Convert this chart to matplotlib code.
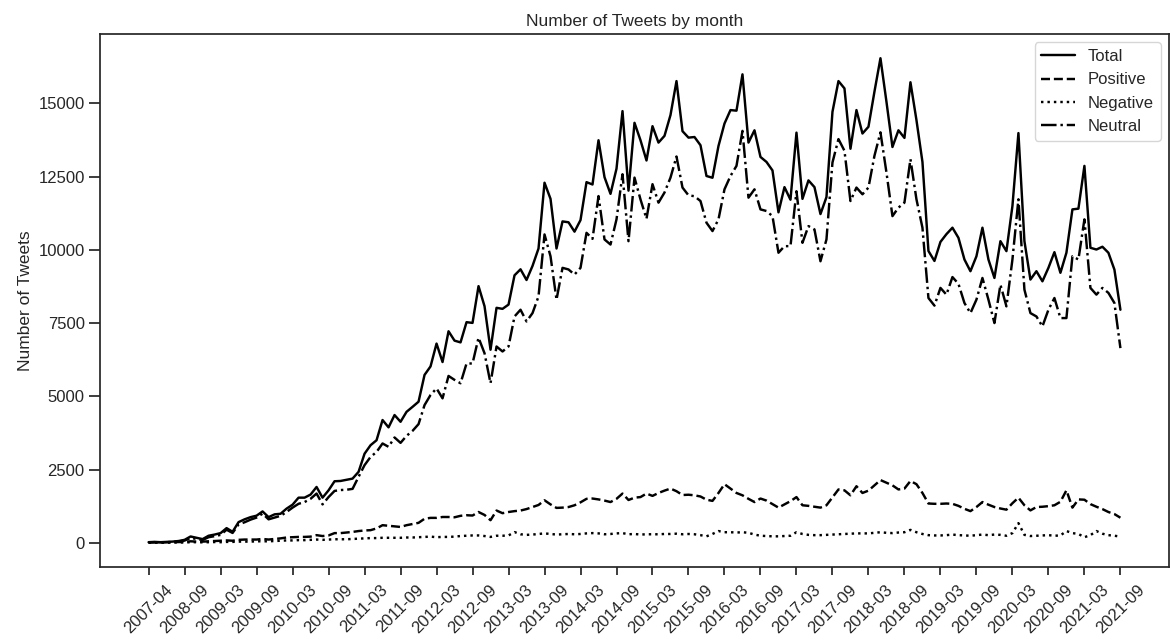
import matplotlib
matplotlib.use("Agg")
from matplotlib import pyplot as plt
import seaborn as sns
import numpy as np

# monthly counts, one row per tick interval (6 points)
total = [
    20, 30, 20, 30, 40, 60,
    100, 215, 170, 125, 240, 280,
    330, 500, 375, 705, 800, 875,
    925, 1070, 875, 970, 990, 1165,
    1300, 1540, 1540, 1645, 1905, 1540,
    1790, 2100, 2110, 2150, 2190, 2420,
    3040, 3330, 3500, 4190, 3940, 4360,
    4130, 4470, 4640, 4815, 5730, 6020,
    6800, 6170, 7220, 6900, 6840, 7530,
    7505, 8760, 8075, 6590, 8020, 7985,
    8130, 9130, 9335, 8970, 9450, 10045,
    12290, 11740, 10045, 10970, 10940, 10620,
    11015, 12310, 12230, 13740, 12480, 11910,
    12770, 14735, 12020, 14335, 13740, 13050,
    14220, 13660, 13890, 14600, 15760, 14050,
    13830, 13850, 13570, 12520, 12460, 13545,
    14310, 14770, 14750, 15990, 13660, 14080,
    13170, 13000, 12710, 11280, 12140, 11710,
    14000, 11740, 12370, 12140, 11220, 11800,
    14710, 15760, 15510, 13450, 14770, 13970,
    14200, 15400, 16540, 15055, 13510, 14080,
    13820, 15720, 14430, 13000, 9960, 9620,
    10270, 10535, 10755, 10410, 9670, 9270,
    9780, 10755, 9670, 9040, 10295, 9955,
    11495, 13985, 10295, 8985, 9270, 8925,
    9385, 9920, 9215, 9900, 11380, 11405,
    12865, 10070, 10010, 10105, 9900, 9325,
    7955,
]

positive = [
    10, 15, 10, 15, 20, 25,
    30, 50, 40, 40, 50, 60,
    70, 80, 70, 100, 110, 110,
    110, 130, 110, 130, 150, 180,
    190, 200, 200, 210, 260, 230,
    250, 330, 330, 350, 370, 400,
    420, 430, 490, 600, 580, 560,
    540, 600, 640, 680, 820, 850,
    850, 880, 880, 870, 920, 940,
    930, 1050, 950, 770, 1100, 1010,
    1050, 1080, 1100, 1150, 1220, 1290,
    1450, 1310, 1190, 1200, 1220, 1280,
    1380, 1500, 1510, 1480, 1440, 1390,
    1500, 1680, 1460, 1540, 1560, 1680,
    1600, 1700, 1780, 1850, 1760, 1630,
    1640, 1620, 1580, 1470, 1430, 1700,
    2000, 1850, 1700, 1620, 1500, 1390,
    1510, 1440, 1320, 1200, 1310, 1420,
    1560, 1280, 1260, 1230, 1200, 1280,
    1550, 1820, 1790, 1620, 1930, 1700,
    1780, 1960, 2140, 2050, 1960, 1820,
    1850, 2110, 2000, 1700, 1340, 1330,
    1330, 1340, 1330, 1260, 1160, 1080,
    1220, 1390, 1300, 1220, 1170, 1130,
    1350, 1540, 1280, 1105, 1220, 1230,
    1250, 1280, 1400, 1790, 1200, 1480,
    1470, 1320, 1230, 1150, 1050, 980,
    855,
]

negative = [
    0, 5, 5, 5, 10, 10,
    10, 20, 20, 15, 20, 25,
    20, 30, 30, 40, 40, 40,
    50, 50, 50, 60, 70, 80,
    80, 90, 90, 100, 110, 100,
    110, 120, 120, 120, 130, 140,
    150, 160, 160, 170, 170, 170,
    170, 180, 180, 190, 200, 210,
    190, 200, 200, 210, 230, 240,
    250, 250, 230, 200, 240, 240,
    250, 365, 290, 270, 280, 300,
    320, 300, 280, 290, 300, 290,
    300, 320, 330, 320, 290, 300,
    320, 330, 290, 300, 280, 290,
    290, 290, 300, 300, 310, 290,
    300, 290, 260, 220, 300, 400,
    360, 360, 350, 360, 340, 280,
    240, 230, 220, 220, 230, 240,
    360, 300, 270, 260, 260, 270,
    280, 290, 300, 310, 320, 320,
    320, 340, 360, 340, 330, 350,
    360, 440, 360, 300, 260, 250,
    250, 260, 280, 260, 250, 240,
    260, 280, 260, 280, 270, 240,
    330, 670, 270, 230, 240, 250,
    260, 240, 250, 400, 330, 300,
    190, 260, 400, 310, 260, 240,
    210,
]

neutral = [
    15, 20, 15, 20, 30, 45,
    75, 165, 130, 95, 190, 225,
    270, 445, 335, 625, 700, 790,
    860, 995, 800, 860, 920, 1050,
    1200, 1330, 1390, 1500, 1680, 1310,
    1560, 1770, 1800, 1810, 1840, 2250,
    2650, 2930, 3100, 3390, 3275, 3595,
    3410, 3650, 3820, 4050, 4700, 5045,
    5270, 4930, 5695, 5560, 5445, 6120,
    6120, 7000, 6470, 5445, 6700, 6530,
    6700, 7725, 7955, 7555, 7840, 8410,
    10525, 9780, 8300, 9385, 9330, 9155,
    9385, 10580, 10375, 11835, 10355, 10180,
    11040, 12580, 10295, 12465, 11720, 11060,
    12240, 11610, 11955, 12465, 13185, 12125,
    11860, 11830, 11665, 10925, 10640, 11040,
    12065, 12520, 12865, 14060, 11780, 12065,
    11380, 11325, 11150, 9900, 10125, 10125,
    12000, 10240, 10810, 10695, 9610, 10355,
    12980, 13780, 13380, 11665, 12125, 11895,
    12125, 13210, 14010, 12640, 11150, 11440,
    11610, 13095, 11725, 10755, 8355, 8095,
    8700, 8470, 9070, 8840, 8185, 7840,
    8300, 9040, 8300, 7500, 8810, 8070,
    9670, 11725, 8640, 7840, 7725, 7385,
    7955, 8355, 7670, 7670, 9780, 9670,
    11040, 8700, 8470, 8700, 8530, 8185,
    6645,
]

tick_labels = ["2007-04", "2008-09"] + [
    f"{y}-{m}" for y in range(2009, 2022) for m in ("03", "09")
]

sns.set_theme(style="ticks")
plt.rcParams["font.family"] = ["Liberation Sans", "DejaVu Sans"]

fig = plt.figure(figsize=(11.7, 6.42), dpi=100)
ax = fig.add_axes([100 / 1170, 75 / 642, 1069 / 1170, 533 / 642])

x = np.arange(len(total))
ax.plot(x, total, color="black", linestyle="-", linewidth=1.75, label="Total")
ax.plot(x, positive, color="black", linestyle="--", linewidth=1.75, label="Positive")
ax.plot(x, negative, color="black", linestyle=":", linewidth=1.75, label="Negative")
ax.plot(x, neutral, color="black", linestyle="-.", linewidth=1.75, label="Neutral")

ax.set_xticks(x[::6])
ax.set_xticklabels(tick_labels, rotation=45)
ax.tick_params(axis="x", labelsize=12, pad=5)
ax.tick_params(axis="y", labelsize=12, length=8, pad=3)
ax.set_ylabel("Number of Tweets", fontsize=12.5)
ax.set_title("Number of Tweets by month", fontsize=12.5)
ax.legend(loc="upper right", fontsize=12)

fig.savefig("out.png", dpi=100)
